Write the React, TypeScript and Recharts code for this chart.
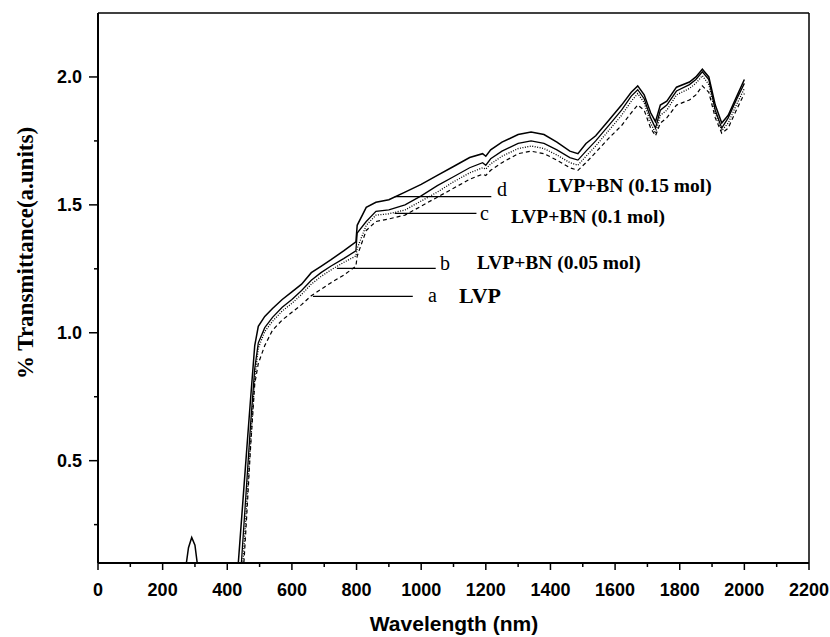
import React from 'react';
import { LineChart, Line, XAxis, YAxis, ReferenceLine, Customized } from 'recharts';

// wavelength grid (nm)
const wavelength = [
  268, 280, 290, 300, 312, 430, 440, 450, 460, 472, 485, 496, 516, 540, 570, 600, 630, 660, 690, 720, 760, 798,
  802, 830, 860, 900, 950, 1000, 1050, 1100, 1150, 1190, 1200, 1215, 1250, 1300, 1340, 1380, 1420, 1460, 1485, 1510,
  1540, 1580, 1620, 1650, 1670, 1690, 1710, 1725, 1740, 1760, 1790, 1830, 1850, 1870, 1890, 1910, 1930, 1950, 1975, 2000,
];

// d: LVP+BN (0.15 mol)
const seriesD = [
  0.05, 0.16, 0.2, 0.17, 0.05, 0.03, 0.2, 0.37, 0.54, 0.74, 0.95, 1.025, 1.064, 1.095, 1.13, 1.16, 1.19, 1.235, 1.26, 1.285, 1.32, 1.355,
  1.42, 1.49, 1.51, 1.52, 1.55, 1.58, 1.615, 1.65, 1.685, 1.7, 1.69, 1.715, 1.745, 1.775, 1.785, 1.775, 1.745, 1.71, 1.7, 1.74,
  1.77, 1.83, 1.89, 1.94, 1.965, 1.93, 1.86, 1.825, 1.89, 1.905, 1.96, 1.98, 2.0, 2.03, 2.0, 1.89, 1.82, 1.85, 1.92, 1.99,
];

// c: LVP+BN (0.1 mol)
const seriesC = [
  0.03, 0.04, 0.05, 0.04, 0.03, 0.0, 0.03, 0.22, 0.41, 0.64, 0.86, 0.96, 1.02, 1.06, 1.1, 1.13, 1.165, 1.205, 1.235, 1.26, 1.29, 1.32,
  1.39, 1.435, 1.475, 1.48, 1.5, 1.535, 1.575, 1.61, 1.645, 1.665, 1.655, 1.68, 1.71, 1.74, 1.75, 1.74, 1.715, 1.685, 1.675, 1.71,
  1.75, 1.81, 1.87, 1.925, 1.95, 1.915, 1.84, 1.8, 1.87, 1.89, 1.945, 1.97, 1.99, 2.02, 1.99, 1.87, 1.8, 1.84, 1.91, 1.975,
];

// b: LVP+BN (0.05 mol)
const seriesB = [
  0.03, 0.04, 0.04, 0.04, 0.03, 0.0, 0.0, 0.13, 0.33, 0.57, 0.82, 0.94, 1.005, 1.045, 1.085, 1.115, 1.15, 1.19, 1.22, 1.245, 1.275, 1.3,
  1.33, 1.42, 1.46, 1.465, 1.48, 1.515, 1.55, 1.59, 1.625, 1.645, 1.64, 1.66, 1.69, 1.72, 1.73, 1.72, 1.695, 1.665, 1.655, 1.69,
  1.73, 1.79, 1.85, 1.905, 1.935, 1.9, 1.82, 1.78, 1.85, 1.87, 1.93, 1.955, 1.975, 2.005, 1.97, 1.86, 1.79, 1.82, 1.89, 1.955,
];

// a: LVP
const seriesA = [
  0.02, 0.03, 0.03, 0.03, 0.02, 0.0, 0.0, 0.07, 0.28, 0.55, 0.8, 0.88, 0.95, 1.01, 1.05, 1.08, 1.11, 1.145, 1.17, 1.195, 1.225, 1.26,
  1.3, 1.4, 1.435, 1.445, 1.46, 1.495, 1.53, 1.565, 1.6, 1.62, 1.615, 1.635, 1.665, 1.7, 1.71, 1.7, 1.675, 1.645, 1.635, 1.665,
  1.705, 1.76, 1.81, 1.86, 1.89, 1.87, 1.8, 1.77, 1.82, 1.84, 1.89, 1.91, 1.93, 1.965, 1.94, 1.84, 1.78, 1.8, 1.87, 1.935,
];

const xTicks = [0, 100, 200, 300, 400, 500, 600, 700, 800, 900, 1000, 1100, 1200, 1300, 1400, 1500, 1600, 1700, 1800, 1900, 2000, 2100, 2200];
const yTicks = [0.25, 0.5, 0.75, 1.0, 1.25, 1.5, 1.75, 2.0];

// leader lines: [label, x1, x2, y]
const leaders: [string, number, number, number][] = [
  ['a', 665, 974, 1.142],
  ['b', 739, 1045, 1.252],
  ['c', 918, 1171, 1.467],
  ['d', 918, 1217, 1.532],
];

const data = wavelength.map((w, i) => ({
  w,
  a: seriesA[i],
  b: seriesB[i],
  c: seriesC[i],
  d: seriesD[i],
}));

const sans = 'Arial, "Liberation Sans", Helvetica, sans-serif';
const serif = '"Times New Roman", "Liberation Serif", serif';

const XTick = (props: any) => {
  const { x, y, payload } = props;
  const major = payload.value % 200 === 0;
  return (
    <g>
      <line x1={x} x2={x} y1={y} y2={y + (major ? 7 : 4)} stroke="#000" strokeWidth={1.5} />
      {major && (
        <text x={x} y={y + 33} textAnchor="middle" fontFamily={sans} fontWeight="bold" fontSize={18} fill="#000">
          {payload.value}
        </text>
      )}
    </g>
  );
};

const YTick = (props: any) => {
  const { x, y, payload } = props;
  const major = Math.abs(payload.value * 2 - Math.round(payload.value * 2)) < 1e-6;
  return (
    <g>
      <line x1={x - (major ? 9 : 4)} x2={x} y1={y} y2={y} stroke="#000" strokeWidth={1.5} />
      {major && (
        <text x={x - 16} y={y + 6} textAnchor="end" fontFamily={sans} fontWeight="bold" fontSize={18} fill="#000">
          {payload.value.toFixed(1)}
        </text>
      )}
    </g>
  );
};

const Annotations = () => (
  <g>
    <text x={428} y={302} fontFamily={serif} fontSize={20} fill="#000">a</text>
    <text x={459} y={303} fontFamily={serif} fontWeight="bold" fontSize={22} fill="#000">LVP</text>
    <text x={440} y={270} fontFamily={serif} fontSize={20} fill="#000">b</text>
    <text x={477} y={269} fontFamily={serif} fontWeight="bold" fontSize={19.5} fill="#000">LVP+BN (0.05 mol)</text>
    <text x={480} y={220} fontFamily={serif} fontSize={20} fill="#000">c</text>
    <text x={511} y={223} fontFamily={serif} fontWeight="bold" fontSize={19.5} fill="#000">LVP+BN (0.1 mol)</text>
    <text x={497} y={196} fontFamily={serif} fontSize={20} fill="#000">d</text>
    <text x={548} y={192} fontFamily={serif} fontWeight="bold" fontSize={19.5} fill="#000">LVP+BN (0.15 mol)</text>
    <text x={454} y={631} textAnchor="middle" fontFamily={sans} fontWeight="bold" fontSize={21} fill="#000">
      Wavelength (nm)
    </text>
    <text
      x={33}
      y={253}
      transform="rotate(-90, 33, 253)"
      textAnchor="middle"
      fontFamily={serif}
      fontWeight="bold"
      fontSize={23}
      fill="#000"
    >
      % Transmittance(a.units)
    </text>
  </g>
);

export default function App() {
  return (
    <div style={{ position: 'absolute', left: 0, top: 0, background: '#fff' }}>
      <LineChart width={830} height={637} data={data} margin={{ top: 13, right: 21, bottom: 0, left: 0 }}>
        <XAxis
          dataKey="w"
          type="number"
          domain={[0, 2200]}
          ticks={xTicks}
          interval={0}
          height={74}
          tickSize={0}
          tickMargin={0}
          tick={<XTick />}
          axisLine={{ stroke: '#000', strokeWidth: 2 }}
          tickLine={false}
        />
        <YAxis
          type="number"
          domain={[0.1, 2.25]}
          allowDataOverflow
          ticks={yTicks}
          interval={0}
          width={98}
          tickSize={0}
          tickMargin={0}
          tick={<YTick />}
          axisLine={{ stroke: '#000', strokeWidth: 2 }}
          tickLine={false}
        />
        <ReferenceLine y={2.25} stroke="#000" strokeWidth={1.5} ifOverflow="visible" />
        <ReferenceLine x={2200} stroke="#000" strokeWidth={1.5} ifOverflow="visible" />
        {leaders.map(([k, x1, x2, y]) => (
          <ReferenceLine
            key={k}
            segment={[{ x: x1, y }, { x: x2, y }]}
            stroke="#000"
            strokeWidth={1.3}
          />
        ))}
        <Line dataKey="a" type="linear" stroke="#000" strokeWidth={1.2} strokeDasharray="4 3" dot={false} isAnimationActive={false} />
        <Line dataKey="b" type="linear" stroke="#000" strokeWidth={1.3} strokeDasharray="1 1.5" dot={false} isAnimationActive={false} />
        <Line dataKey="c" type="linear" stroke="#000" strokeWidth={1.3} dot={false} isAnimationActive={false} />
        <Line dataKey="d" type="linear" stroke="#000" strokeWidth={1.5} dot={false} isAnimationActive={false} />
        <Customized component={Annotations} />
      </LineChart>
    </div>
  );
}
